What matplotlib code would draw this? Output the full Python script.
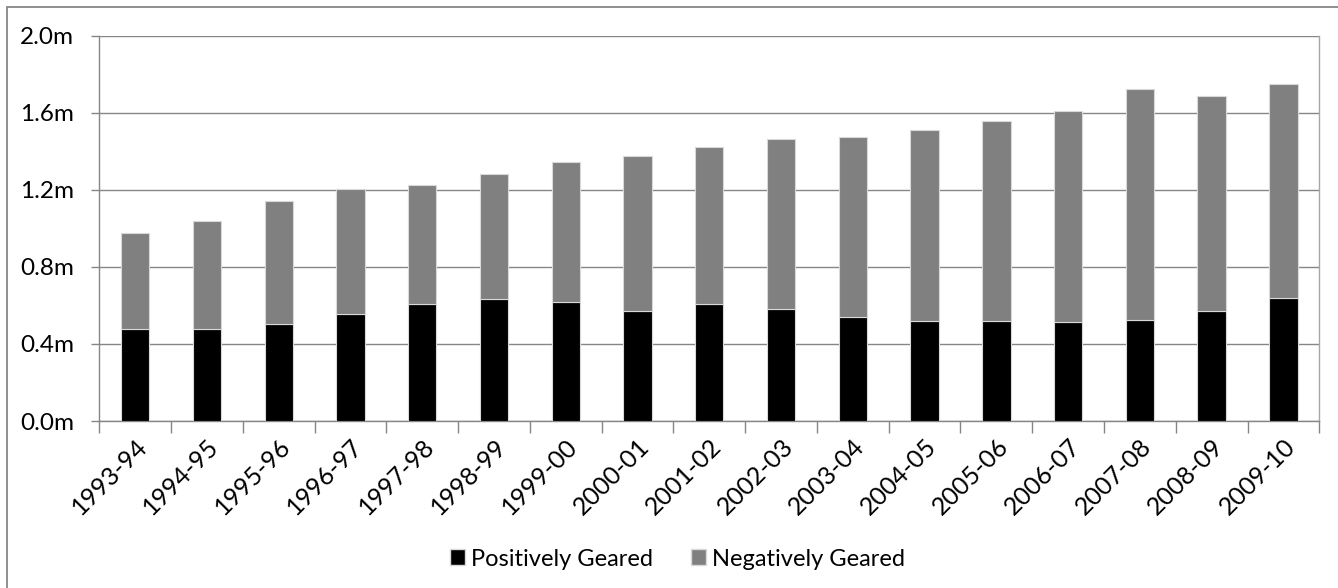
import matplotlib
matplotlib.use("Agg")
import matplotlib.pyplot as plt
from matplotlib.patches import Rectangle, Patch
from matplotlib.ticker import FuncFormatter, MultipleLocator
from matplotlib.transforms import ScaledTranslation
import numpy as np

plt.rcParams['font.family'] = ['Lato', 'DejaVu Sans']

years = ["1993-94", "1994-95", "1995-96", "1996-97", "1997-98", "1998-99",
         "1999-00", "2000-01", "2001-02", "2002-03", "2003-04", "2004-05",
         "2005-06", "2006-07", "2007-08", "2008-09", "2009-10"]
# totals of taxpayers with rental income (millions)
total = [0.974, 1.039, 1.142, 1.202, 1.226, 1.283, 1.344, 1.373, 1.420,
         1.463, 1.475, 1.508, 1.555, 1.607, 1.723, 1.687, 1.747]
positive = [0.477, 0.477, 0.503, 0.554, 0.605, 0.633, 0.619, 0.572, 0.605,
            0.581, 0.541, 0.520, 0.520, 0.515, 0.526, 0.572, 0.638]
negative = [t - p for t, p in zip(total, positive)]

W, H = 1338, 588
fig = plt.figure(figsize=(W / 100, H / 100), dpi=100)

# outer chart border
fig.patches.append(Rectangle((7 / W, -0.05), 1.2, 1 - 6.5 / H + 0.05,
                             transform=fig.transFigure, fill=False,
                             edgecolor='#868686', linewidth=1.3))

left, right, top, bottom = 99.3, 1319.3, 35.7, 421.0
ax = fig.add_axes([left / W, 1 - bottom / H, (right - left) / W, (bottom - top) / H])

x = np.arange(len(years))
bw = 0.395
ax.bar(x, positive, width=bw, color='#000000', edgecolor='#d9d9d9',
       linewidth=0.8, zorder=3, label='Positively Geared')
ax.bar(x, negative, width=bw, bottom=positive, color='#808080',
       edgecolor='#d9d9d9', linewidth=0.8, zorder=3, label='Negatively Geared')

ax.set_xlim(-0.5, len(years) - 0.5)
ax.set_ylim(0, 2.0)
ax.yaxis.set_major_locator(MultipleLocator(0.4))
ax.yaxis.set_major_formatter(FuncFormatter(lambda v, _: f"{v:.1f}m"))
ax.grid(axis='y', color='#868686', linewidth=1.0, zorder=0)
ax.set_axisbelow(True)

ax.spines['top'].set_visible(False)
for s in ['left', 'bottom']:
    ax.spines[s].set_color('#868686')
    ax.spines[s].set_linewidth(1.0)
ax.spines['right'].set_color('#a6a6a6')
ax.spines['right'].set_linewidth(1.0)

ax.set_xticks(np.arange(-0.5, len(years), 1.0))
ax.set_xticklabels([])
ax.set_xticks(x, minor=True)
ax.set_xticklabels(years, minor=True, rotation=45, ha='right',
                   rotation_mode='anchor', fontsize=18)
shift = ScaledTranslation(6 / 100, 0, fig.dpi_scale_trans)
for lbl in ax.get_xticklabels(minor=True):
    lbl.set_transform(lbl.get_transform() + shift)
ax.tick_params(axis='x', which='major', length=8.5, width=1.0, color='#868686',
               direction='out')
ax.tick_params(axis='x', which='minor', length=0, pad=10)
ax.tick_params(axis='y', length=6, width=1.0, color='#868686', direction='out',
               labelsize=17.5, pad=12)

handles = [Patch(facecolor='#000000', edgecolor='#d9d9d9', label='Positively Geared'),
           Patch(facecolor='#808080', edgecolor='#d9d9d9', label='Negatively Geared')]
fig.legend(handles=handles, loc='center', bbox_to_anchor=(677.5 / W, 1 - 559 / H),
           ncol=2, frameon=False, fontsize=17, handlelength=0.63,
           handleheight=0.63, handletextpad=0.25, columnspacing=1.65)

fig.savefig("out.png", dpi=100)
